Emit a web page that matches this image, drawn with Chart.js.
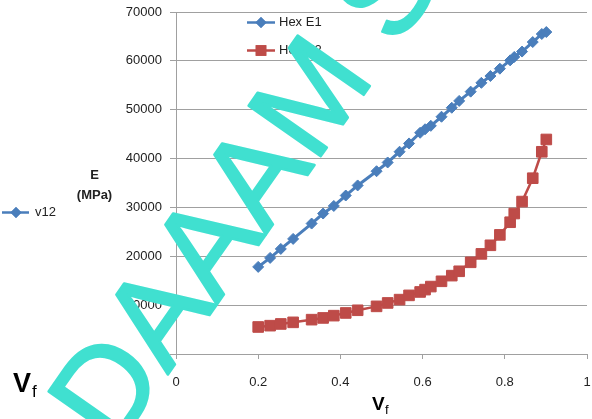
<!DOCTYPE html>
<html>
<head>
<meta charset="utf-8">
<script src="https://cdn.jsdelivr.net/npm/chart.js@4.4.7/dist/chart.umd.min.js"></script>
<style>
  html, body { margin: 0; padding: 0; background: #fff; }
  canvas { display: block; }
</style>
</head>
<body>
<canvas id="chart" width="592" height="419"></canvas>
<script>
// ---- Data ----
const vf = [0.2, 0.229, 0.255, 0.285, 0.33, 0.358, 0.384, 0.413, 0.442, 0.488,
            0.515, 0.544, 0.567, 0.594, 0.606, 0.62, 0.646, 0.671, 0.689, 0.717,
            0.743, 0.765, 0.788, 0.813, 0.823, 0.842, 0.868, 0.89, 0.901];
const hexE1 = [17830, 19670, 21510, 23560, 26700, 28750, 30300, 32440, 34500, 37410,
               39200, 41400, 43100, 45280, 46000, 46700, 48560, 50400, 51800, 53700,
               55500, 56900, 58400, 60100, 60800, 61900, 63850, 65500, 65900];
const hexE2 = [5530, 5800, 6150, 6480, 7030, 7380, 7850, 8400, 8950, 9750,
               10450, 11130, 12000, 12700, 13180, 13800, 14880, 16040, 16930, 18770,
               20490, 22250, 24380, 26970, 28750, 31200, 35980, 41390, 43910];
const seriesNames = ["Hex E1", "Hex E2"];
const xTicks = [0, 0.2, 0.4, 0.6, 0.8, 1];
const yTicks = [0, 10000, 20000, 30000, 40000, 50000, 60000, 70000];

// ---- Palette ----
const BLUE = "#4A7EBB";
const RED = "#BE4B48";
const GRID = "#a0a0a0";
const TEXT = "#222";
const MARK = "#40E0D0";
const FONT = "'Liberation Sans', Arial, sans-serif";

function pts(ys) {
  return vf.map(function (x, i) { return { x: x, y: ys[i] }; });
}

// ---- Extra drawing: inner legend, side labels, axis title, watermark ----
const overlay = {
  id: "overlay",
  afterDraw: function (chart) {
    const ctx = chart.ctx;
    ctx.save();

    // inner legend
    const legend = [
      { y: 22.5, color: BLUE, style: "rectRot", r: 5.5 },
      { y: 50.5, color: RED, style: "rect", r: 7.5 }
    ];
    legend.forEach(function (it, i) {
      ctx.strokeStyle = it.color;
      ctx.lineWidth = 2.5;
      ctx.beginPath();
      ctx.moveTo(247, it.y);
      ctx.lineTo(275, it.y);
      ctx.stroke();
      ctx.fillStyle = it.color;
      Chart.helpers.drawPoint(ctx, { pointStyle: it.style, radius: it.r, rotation: 0, borderWidth: 0 }, 261, it.y);
      ctx.fill();
      ctx.fillStyle = TEXT;
      ctx.font = "13px " + FONT;
      ctx.textAlign = "left";
      ctx.textBaseline = "middle";
      ctx.fillText(seriesNames[i], 279, it.y);
    });

    // stray legend entry on the left
    ctx.strokeStyle = BLUE;
    ctx.lineWidth = 2.5;
    ctx.beginPath();
    ctx.moveTo(2, 212.5);
    ctx.lineTo(29, 212.5);
    ctx.stroke();
    ctx.fillStyle = BLUE;
    Chart.helpers.drawPoint(ctx, { pointStyle: "rectRot", radius: 5.5, rotation: 0, borderWidth: 0 }, 16, 212.5);
    ctx.fill();
    ctx.fillStyle = TEXT;
    ctx.font = "13px " + FONT;
    ctx.textBaseline = "middle";
    ctx.fillText("v12", 35, 212.5);

    // y label
    ctx.font = "bold 13px " + FONT;
    ctx.textAlign = "center";
    ctx.fillText("E", 94.5, 175);
    ctx.fillText("(MPa)", 94.5, 195);

    // big Vf bottom left
    ctx.textAlign = "left";
    ctx.textBaseline = "alphabetic";
    ctx.fillStyle = "#000";
    ctx.font = "bold 27px " + FONT;
    ctx.fillText("V", 13, 392);
    ctx.font = "17px " + FONT;
    ctx.fillText("f", 32, 397);

    // x axis title
    ctx.font = "bold 19px " + FONT;
    ctx.fillText("V", 372, 410);
    ctx.font = "13px " + FONT;
    ctx.fillText("f", 385, 414);

    // watermark
    ctx.translate(114.8, 450.4);
    ctx.rotate(-55 * Math.PI / 180);
    ctx.fillStyle = MARK;
    ctx.strokeStyle = MARK;
    ctx.lineWidth = 2.5;
    ctx.lineJoin = "round";
    ctx.font = "128px " + FONT;
    ctx.fillText("DAAAM S", 0, 0);
    ctx.strokeText("DAAAM S", 0, 0);

    ctx.restore();
  }
};

new Chart(document.getElementById("chart"), {
  type: "line",
  data: {
    datasets: [
      {
        label: seriesNames[0],
        data: pts(hexE1),
        borderColor: BLUE,
        backgroundColor: BLUE,
        borderWidth: 3,
        pointStyle: "rectRot",
        pointRadius: 5.5,
        pointBorderWidth: 1,
        pointBorderColor: BLUE,
        pointBackgroundColor: BLUE
      },
      {
        label: seriesNames[1],
        data: pts(hexE2),
        borderColor: RED,
        backgroundColor: RED,
        borderWidth: 2.5,
        pointStyle: "rect",
        pointRadius: 7.5,
        pointBorderWidth: 1,
        pointBorderColor: RED,
        pointBackgroundColor: RED
      }
    ]
  },
  options: {
    responsive: false,
    animation: false,
    layout: { autoPadding: false, padding: { top: 12, right: 5, left: 0, bottom: 0 } },
    plugins: { legend: { display: false }, tooltip: { enabled: false } },
    scales: {
      x: {
        type: "linear",
        min: 0,
        max: 1,
        afterBuildTicks: function (s) { s.ticks = xTicks.map(function (v) { return { value: v }; }); },
        ticks: { color: TEXT, font: { family: FONT, size: 13 }, padding: 16, maxRotation: 0,
                 callback: function (v) { return String(v); } },
        grid: { drawOnChartArea: false, tickLength: 5, color: GRID },
        border: { color: GRID },
        afterFit: function (s) { s.height = 65; s.paddingLeft = 0; s.paddingRight = 0; }
      },
      y: {
        min: 0,
        max: 70000,
        afterBuildTicks: function (s) { s.ticks = yTicks.map(function (v) { return { value: v }; }); },
        ticks: { color: TEXT, font: { family: FONT, size: 13 }, padding: 8, callback: function (v) { return String(v); } },
        grid: { color: GRID, tickLength: 6 },
        border: { color: GRID },
        afterFit: function (s) { s.width = 176; s.paddingTop = 0; s.paddingBottom = 0; }
      }
    }
  },
  plugins: [overlay]
});
</script>
</body>
</html>
